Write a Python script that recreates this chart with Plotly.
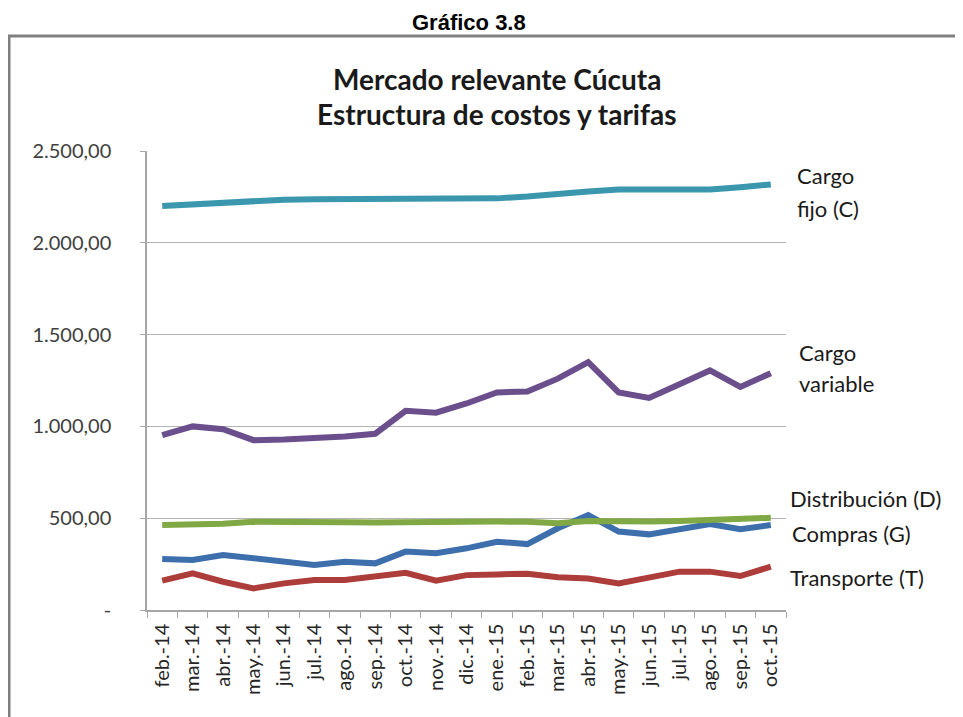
import plotly.graph_objects as go

months = ["feb.-14", "mar.-14", "abr.-14", "may.-14", "jun.-14", "jul.-14", "ago.-14",
          "sep.-14", "oct.-14", "nov.-14", "dic.-14", "ene.-15", "feb.-15", "mar.-15",
          "abr.-15", "may.-15", "jun.-15", "jul.-15", "ago.-15", "sep.-15", "oct.-15"]

cargo_fijo = [2200, 2210, 2215, 2222, 2235, 2237, 2237, 2237, 2237, 2237, 2237,
              2242, 2252, 2268, 2280, 2290, 2290, 2290, 2290, 2303, 2318]
cargo_variable = [952, 1000, 985, 925, 928, 935, 945, 960, 1085, 1075, 1125,
                  1185, 1190, 1260, 1350, 1185, 1155, 1230, 1305, 1215, 1290]
compras = [278, 272, 300, 282, 258, 245, 263, 254, 318, 309, 336,
           372, 359, 445, 517, 427, 412, 440, 468, 440, 463]
distribucion = [463, 463, 470, 480, 482, 482, 478, 477, 480, 480, 480,
                482, 480, 473, 485, 482, 482, 485, 490, 502, 502]
transporte = [160, 200, 154, 118, 145, 163, 163, 181, 203, 160, 190,
              194, 198, 178, 172, 145, 174, 209, 209, 185, 236]

y_ticks = [0, 500, 1000, 1500, 2000, 2500]
y_tick_text = ["-", "500,00", "1.000,00", "1.500,00", "2.000,00", "2.500,00"]

series = [
    ("Cargo fijo (C)", cargo_fijo, "#3a97ae"),
    ("Cargo variable", cargo_variable, "#6a4f8c"),
    ("Compras (G)", compras, "#3e6fad"),
    ("Distribución (D)", distribucion, "#80a845"),
    ("Transporte (T)", transporte, "#ad3d3a"),
]

fig = go.Figure()
for name, vals, color in series:
    fig.add_trace(go.Scatter(x=months, y=vals, mode="lines", name=name,
                             line=dict(color=color, width=6)))

# the page body adds an 8px margin; compensate so screen positions match
OFF = 8
W, H = 963, 717
PLOT_L, PLOT_R, PLOT_T, PLOT_B = 147, 786, 151, 610   # screen pixels
L = PLOT_L - OFF
T = PLOT_T - OFF
R = W - (PLOT_R - OFF)
B = H - (PLOT_B - OFF)
pw, ph = PLOT_R - PLOT_L, PLOT_B - PLOT_T


def px(x):
    return (x - PLOT_L) / pw


def py(y):
    return (PLOT_B - y) / ph


FONT = "Lato, 'Open Sans', sans-serif"
TXT = "#1a1a1a"
AF = dict(family=FONT, size=22, color=TXT)

annotations = [
    dict(text="<b>Gráfico 3.8</b>", x=px(469), y=py(22), xanchor="center", yanchor="middle",
         font=dict(family="Liberation Sans, Arial, sans-serif", size=22, color="#000000")),
    dict(text="<b>Mercado relevante Cúcuta</b>", x=px(497), y=py(79), xanchor="center", yanchor="middle",
         font=dict(family=FONT, size=28, color=TXT)),
    dict(text="<b>Estructura de costos y tarifas</b>", x=px(497), y=py(114), xanchor="center", yanchor="middle",
         font=dict(family=FONT, size=28, color=TXT)),
    dict(text="Cargo", x=px(795), y=py(176), xanchor="left", yanchor="middle", font=AF),
    dict(text="fijo (C)", x=px(795), y=py(208), xanchor="left", yanchor="middle", font=AF),
    dict(text="Cargo", x=px(797), y=py(352), xanchor="left", yanchor="middle", font=AF),
    dict(text="variable", x=px(797), y=py(383), xanchor="left", yanchor="middle", font=AF),
    dict(text="Distribución (D)", x=px(788), y=py(498), xanchor="left", yanchor="middle", font=AF),
    dict(text="Compras (G)", x=px(790), y=py(533), xanchor="left", yanchor="middle", font=AF),
    dict(text="Transporte (T)", x=px(788), y=py(577), xanchor="left", yanchor="middle", font=AF),
]
for a in annotations:
    a.update(xref="paper", yref="paper", showarrow=False)

fig.update_layout(
    width=W, height=H,
    margin=dict(l=L, r=R, t=T, b=B, pad=0),
    paper_bgcolor="white", plot_bgcolor="white",
    showlegend=False,
    annotations=annotations,
    shapes=[dict(type="rect", xref="paper", yref="paper",
                 x0=px(9), y0=py(760), x1=px(1000), y1=py(36),
                 line=dict(color="#808080", width=3), fillcolor="rgba(0,0,0,0)", layer="below")],
    font=dict(family=FONT, color="#404040"),
)

fig.update_xaxes(
    type="category", range=[-0.5, len(months) - 0.5],
    showgrid=False, showline=True, linecolor="#a6a6a6", linewidth=1.5,
    ticks="outside", tickson="boundaries", ticklen=6, tickcolor="#a6a6a6",
    tickangle=-90, tickfont=dict(family=FONT, size=20, color="#262626"),
    ticklabelstandoff=4,
)
fig.update_yaxes(
    range=[0, 2500], tickvals=y_ticks, ticktext=y_tick_text,
    showgrid=True, gridcolor="#b3b3b3", gridwidth=1.3,
    showline=True, linecolor="#a6a6a6", linewidth=1.5,
    ticks="outside", ticklen=5, tickcolor="#a6a6a6",
    tickfont=dict(family=FONT, size=20, color="#404040"),
    zeroline=False, ticklabelstandoff=25,
)

fig.write_html("out.html")
